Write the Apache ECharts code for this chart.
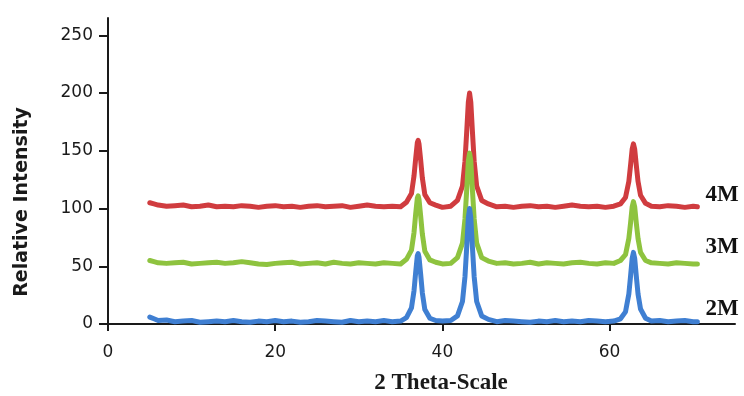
<!DOCTYPE html>
<html>
<head>
<meta charset="utf-8">
<script src="https://cdn.jsdelivr.net/npm/echarts@6/dist/echarts.min.js"></script>
<style>html,body{margin:0;padding:0;background:#fff}#c{width:744px;height:396px}</style>
</head>
<body>
<div id="c"></div>
<script>
var twoTheta = [5,5.5,6,7,8,9,10,11,12,13,
14,15,16,17,18,19,20,21,22,23,
24,25,26,27,28,29,30,31,32,33,34,
35,35.7,36.3,36.6,36.8,37.0,37.1,37.2,37.4,37.6,37.9,38.5,39.2,40,41,
41.8,42.4,42.7,42.9,43.1,43.25,43.4,43.6,43.8,44.1,44.7,45.5,
46.5,47.5,48.5,49.5,50.5,51.5,52.5,53.5,54.5,55.5,56.5,57.5,58.5,59.5,60.5,
61.3,61.9,62.3,62.5,62.7,62.85,63.0,63.2,63.4,63.7,64.3,
65,66,67,68,69,70,70.5];

var s4M = [105,104,103,102,102.5,103,101.5,102,103,101.5,
102,101.5,102.5,102,101,102,102.5,101.5,102,101,
102,102.5,101.5,102,102.5,101,102,103,102,101.5,102,
101.5,105.5,113,128,143,157,159,156,142,126.5,112,105,103,101,102,
107,119.5,141,165.5,192,200,192,165.5,141,119.5,107,104,
101.5,102,101,102,102.5,101.5,102,101,102,103,102,101.5,102,101,102,
104,109.5,123.5,137,151.5,156,151.5,137,123.5,111.5,104.5,
102,101.5,102.5,102,101,102,101.5];

var s3M = [55,54,53,52.5,53,53.5,52,52.5,53,53.5,
52.5,53,54,53,52,51.5,52.5,53,53.5,52,
52.5,53,52,53.5,52.5,52,53,52.5,52,53,52.5,
52,56,64,79,95,109,111,108,93.5,78,63,55.5,53.5,52,52.5,
57.5,70,91,115,141,148,141,115,91,70,57.5,54.5,
52.5,53,52,52.5,53.5,52,53,52.5,52,53,53.5,52.5,52,53,52.5,
55,60,74,87,101.5,106,101.5,87,74,62,55,
53,52.5,52,53,52.5,52,52];

var s2M = [6,4.5,3,3.5,2,2.5,3,1.5,2,2.5,
2,3,2,1.5,2.5,2,3,2,2.5,1.5,
2,3,2.5,2,1.5,3,2,2.5,2,3,2,
2.5,5.5,14,28.5,44.5,59,61,58,43,27,12.5,5,3,2.5,3,
7,19.5,41,65.5,92,100,92,65.5,41,19.5,7,4,
2,3,2.5,2,1.5,2.5,2,3,2,2.5,2,3,2.5,2,2.5,
4.5,10.5,26,41,57,62,57,41,26,13,5,
2.5,3,2,2.5,3,2,2];

var xTicks = [0,20,40,60];
var yTicks = [0,50,100,150,200,250];
var seriesNames = ['4M','3M','2M'];
var seriesColors = ['#d03c3f','#8ec33f','#3f7fd2'];

function pairs(ys){ return twoTheta.map(function(x,i){ return [x, ys[i]]; }); }

var labelOffsets = [[0,-12],[0,-17],[0,-13]];
var allData = [s4M, s3M, s2M];

var chart = echarts.init(document.getElementById('c'), null, {renderer:'canvas'});
chart.setOption({
  animation:false,
  backgroundColor:'#fff',
  grid:{left:108, right:9, top:18, bottom:72, containLabel:false},
  xAxis:{
    type:'value', min:0, max:75,
    axisLine:{show:true, onZero:false, lineStyle:{color:'#1a1a1a', width:2}},
    axisTick:{show:true, inside:false, length:7, customValues:xTicks, lineStyle:{color:'#1a1a1a', width:2}},
    axisLabel:{customValues:xTicks, margin:20, color:'#1a1a1a', fontFamily:'DejaVu Sans', fontSize:17},
    splitLine:{show:false}
  },
  yAxis:{
    type:'value', min:0, max:265,
    axisLine:{show:true, lineStyle:{color:'#1a1a1a', width:2}},
    axisTick:{show:true, inside:false, length:9, customValues:yTicks, lineStyle:{color:'#1a1a1a', width:2}},
    axisLabel:{customValues:yTicks, margin:15, color:'#1a1a1a', fontFamily:'DejaVu Sans', fontSize:17},
    splitLine:{show:false}
  },
  graphic:[
    {type:'text', x:22, y:202, rotation:Math.PI/2,
     style:{text:'Relative Intensity', fill:'#1a1a1a', font:'bold 19px "DejaVu Sans"', align:'center', verticalAlign:'middle'}},
    {type:'text', x:441, y:383,
     style:{text:'2 Theta-Scale', fill:'#1a1a1a', font:'bold 23px "Liberation Serif"', align:'center', verticalAlign:'middle'}}
  ],
  series: seriesNames.map(function(name, k){
    return {
      name:name, type:'line', data:pairs(allData[k]), showSymbol:false, symbol:'none',
      lineStyle:{color:seriesColors[k], width:5, join:'round', cap:'round'},
      itemStyle:{color:seriesColors[k]},
      z: 2 + k,
      endLabel:{show:true, formatter:name, distance:8, offset:labelOffsets[k],
        color:'#111', fontFamily:'Liberation Serif', fontWeight:'bold', fontSize:23},
      emphasis:{disabled:true}
    };
  })
});
</script>
</body>
</html>
